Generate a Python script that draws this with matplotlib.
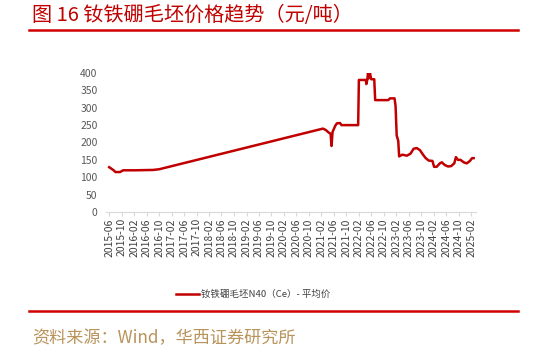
import pandas as pd
import matplotlib
matplotlib.use('Agg')
import matplotlib.pyplot as plt
import matplotlib.dates as mdates
from matplotlib.lines import Line2D

plt.rcParams['font.family'] = ['Noto Sans CJK SC', 'DejaVu Sans']

# ---- data ----
dates = ["2015-06-01", "2015-07-15", "2015-08-01", "2015-09-15", "2015-10-15", "2016-02-01",
         "2016-08-01", "2016-10-01", "2021-02-15", "2021-03-15", "2021-04-15", "2021-05-01",
         "2021-05-10", "2021-05-20", "2021-06-15", "2021-07-01", "2021-08-01", "2021-08-15",
         "2022-01-25", "2022-02-01", "2022-04-10", "2022-04-15", "2022-04-25", "2022-05-01",
         "2022-05-10", "2022-05-20", "2022-06-01", "2022-07-01", "2022-07-10", "2022-11-15",
         "2022-12-01", "2023-01-15", "2023-01-25", "2023-02-05", "2023-02-20", "2023-03-01",
         "2023-04-01", "2023-05-15", "2023-06-20", "2023-07-20", "2023-08-20", "2023-09-20",
         "2023-10-20", "2023-11-15", "2023-12-15", "2024-01-20", "2024-02-05", "2024-03-01",
         "2024-04-01", "2024-04-20", "2024-05-20", "2024-06-20", "2024-07-20", "2024-08-20",
         "2024-09-05", "2024-09-25", "2024-10-20", "2024-11-20", "2024-12-20", "2025-01-20",
         "2025-02-10", "2025-02-25"]
prices = [129, 120, 115, 115, 120, 120,
          121, 123, 240, 236, 228, 225,
          190, 230, 248, 255, 256, 250,
          250, 380, 380, 368, 382, 400,
          385, 400, 382, 382, 322, 322,
          327, 327, 305, 220, 205, 160,
          165, 162, 168, 182, 184, 178,
          165, 155, 148, 147, 130, 130,
          140, 143, 135, 131, 132, 140,
          158, 150, 150, 143, 140, 147,
          155, 155]
tick_dates = pd.date_range("2015-06-01", "2025-02-01", freq="4MS")
y_ticks = [0, 50, 100, 150, 200, 250, 300, 350, 400]

title = "图 16 钕铁硼毛坯价格趋势（元/吨）"
series_name = "钕铁硼毛坯N40（Ce）- 平均价"
source = "资料来源：Wind，华西证券研究所"

W, H = 533, 352
fig = plt.figure(figsize=(W / 100, H / 100), dpi=100)

# axes placed in pixel terms
left, right, top, bottom = 106, 476, 73, 212
ax = fig.add_axes([left / W, 1 - bottom / H, (right - left) / W, (bottom - top) / H])

ax.plot(pd.to_datetime(dates), prices, color='#c00000', lw=1.8, solid_joinstyle='round')

ax.set_xlim(pd.Timestamp("2015-05-01"), pd.Timestamp("2025-03-20"))
ax.set_ylim(0, 400)
ax.set_yticks(y_ticks)
ax.set_xticks(tick_dates)
ax.xaxis.set_major_formatter(mdates.DateFormatter('%Y-%m'))
plt.setp(ax.get_xticklabels(), rotation=90)
ax.tick_params(axis='x', colors='#d9d9d9', labelcolor='#404040', labelsize=7.5, length=3, pad=1.5)
ax.tick_params(axis='y', length=0, labelcolor='#595959', labelsize=7.5, pad=6)

for s in ['top', 'right', 'left']:
    ax.spines[s].set_visible(False)
ax.spines['bottom'].set_color('#d9d9d9')

# legend drawn by hand
fig.add_artist(Line2D([176 / W, 199 / W], [1 - 294 / H] * 2, color='#c00000', lw=1.8))
fig.text(201 / W, 1 - 294 / H, series_name, fontsize=6.8, color='#404040', va='center', ha='left')

# header / footer
fig.text(32 / W, 1 - 16 / H, title, fontsize=14.5, color='#c00000', va='center', ha='left')
fig.add_artist(Line2D([29 / W, 518 / W], [1 - 30 / H] * 2, color='#d00000', lw=1.8))
fig.add_artist(Line2D([29 / W, 518 / W], [1 - 311 / H] * 2, color='#d00000', lw=1.8))
fig.text(32 / W, 1 - 338 / H, source, fontsize=12.3, color='#b8935a', va='center', ha='left')

plt.savefig('out.png', dpi=100)
